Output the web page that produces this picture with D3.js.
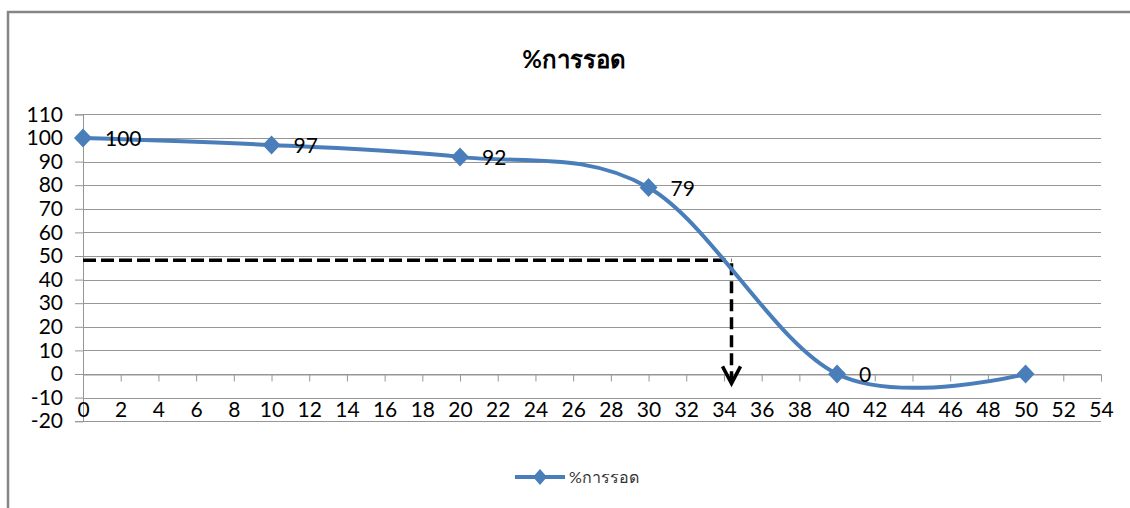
<!DOCTYPE html>
<html>
<head>
<meta charset="utf-8">
<script src="https://cdn.jsdelivr.net/npm/d3@7"></script>
<style>
  html, body { margin: 0; padding: 0; background: #fff; }
  svg { display: block; }
  text { font-family: Lato, "Noto Sans", sans-serif; }
</style>
</head>
<body>
<svg id="chart" width="1130" height="508"></svg>
<script>
// Survival percentage at each measured point
const xValues = [0, 10, 20, 30, 40, 50];
const survival = [100, 97, 92, 79, 0, 0];
const labelShown = [true, true, true, true, true, false];

// Axis ticks
const xTicks = d3.range(0, 56, 2);
const yTicks = d3.range(-20, 120, 10);

// 50% read-off guide (x at which the curve crosses the half level)
const guideLevel = 48.2;
const guideX = 34.4;
const guideEnd = -4;

const seriesName = "%การรอด";
const titleText = "%การรอด";

const svg = d3.select("#chart");
const blue = "#4A7EBB";
const gridColor = "#969696";
const plain = d => String(d);

const x = d3.scaleLinear().domain([0, 54]).range([83, 1101]);
const y = d3.scaleLinear().domain([-20, 110]).range([421.2, 114.4]);

// Outer chart frame (top and left edges)
svg.append("path")
  .attr("d", "M8,508 L8,12 L1130,12")
  .attr("fill", "none")
  .attr("stroke", "#868686")
  .attr("stroke-width", 2.5);

// Title
svg.append("text")
  .attr("x", 574)
  .attr("y", 68)
  .attr("text-anchor", "middle")
  .attr("font-size", 24)
  .attr("font-weight", "bold")
  .attr("fill", "#000")
  .text(titleText);

// Horizontal gridlines
svg.append("g")
  .selectAll("line")
  .data(yTicks)
  .join("line")
  .attr("x1", x(0))
  .attr("x2", x(54))
  .attr("y1", d => Math.round(y(d)) + 0.5)
  .attr("y2", d => Math.round(y(d)) + 0.5)
  .attr("stroke", gridColor)
  .attr("stroke-width", 1);

// Y axis
const yAxis = svg.append("g")
  .attr("transform", `translate(${x(0)},0)`)
  .call(d3.axisLeft(y).tickValues(yTicks).tickSize(8).tickPadding(12).tickFormat(plain));
yAxis.select(".domain").attr("stroke", gridColor);
yAxis.selectAll(".tick line").attr("stroke", gridColor);
yAxis.selectAll(".tick text")
  .attr("font-size", 21)
  .attr("font-family", "Lato, sans-serif")
  .attr("fill", "#000");

// X axis: ticks sit on the zero line, labels at the bottom of the plot
const xAxis = svg.append("g")
  .attr("transform", `translate(0,${Math.round(y(0)) + 0.5})`)
  .call(d3.axisBottom(x).tickValues(xTicks).tickSize(7).tickFormat(plain));
xAxis.select(".domain").attr("stroke", gridColor);
xAxis.selectAll(".tick line").attr("stroke", gridColor);
xAxis.selectAll(".tick text")
  .attr("y", y(-15) - y(0))
  .attr("dy", "0.35em")
  .attr("font-size", 21)
  .attr("font-family", "Lato, sans-serif")
  .attr("fill", "#000");

// Guide lines with arrow
const guide = svg.append("g")
  .attr("fill", "none")
  .attr("stroke", "#000")
  .attr("stroke-width", 3.5);
guide.append("line")
  .attr("x1", x(0)).attr("x2", x(guideX))
  .attr("y1", y(guideLevel)).attr("y2", y(guideLevel))
  .attr("stroke-dasharray", "13,5");
guide.append("line")
  .attr("x1", x(guideX)).attr("x2", x(guideX))
  .attr("y1", y(guideLevel) + 3).attr("y2", y(guideEnd) - 2)
  .attr("stroke-dasharray", "12,6");
guide.append("path")
  .attr("d", `M${x(guideX) - 9},${y(guideEnd) - 17} L${x(guideX)},${y(guideEnd)} L${x(guideX) + 9},${y(guideEnd) - 17}`)
  .attr("stroke-linejoin", "miter");

// Smoothed survival curve
const pts = xValues.map((v, i) => [v, survival[i]]);
const line = d3.line()
  .x(d => x(d[0]))
  .y(d => y(d[1]))
  .curve(d3.curveCardinal.tension(0));
svg.append("path")
  .datum(pts)
  .attr("d", line)
  .attr("fill", "none")
  .attr("stroke", blue)
  .attr("stroke-width", 4)
  .attr("stroke-linecap", "round");

// Diamond markers
const diamond = (cx, cy, w, h) => `M${cx},${cy - h} L${cx + w},${cy} L${cx},${cy + h} L${cx - w},${cy} Z`;
svg.append("g")
  .selectAll("path")
  .data(pts)
  .join("path")
  .attr("d", d => diamond(x(d[0]), y(d[1]), 9, 9.5))
  .attr("fill", blue);

// Data labels
svg.append("g")
  .selectAll("text")
  .data(pts.filter((d, i) => labelShown[i]))
  .join("text")
  .attr("x", d => x(d[0]) + 22)
  .attr("y", d => y(d[1]) + 1)
  .attr("dy", "0.35em")
  .attr("font-size", 21)
  .attr("fill", "#000")
  .text(d => d[1]);

// Legend
const legend = svg.append("g");
legend.append("line")
  .attr("x1", 515).attr("x2", 565)
  .attr("y1", 477).attr("y2", 477)
  .attr("stroke", blue)
  .attr("stroke-width", 4);
legend.append("path")
  .attr("d", diamond(540, 477, 7, 8))
  .attr("fill", blue);
legend.append("text")
  .attr("x", 569)
  .attr("y", 477)
  .attr("dy", "0.35em")
  .attr("font-size", 16)
  .attr("fill", "#333")
  .text(seriesName);
</script>
</body>
</html>
